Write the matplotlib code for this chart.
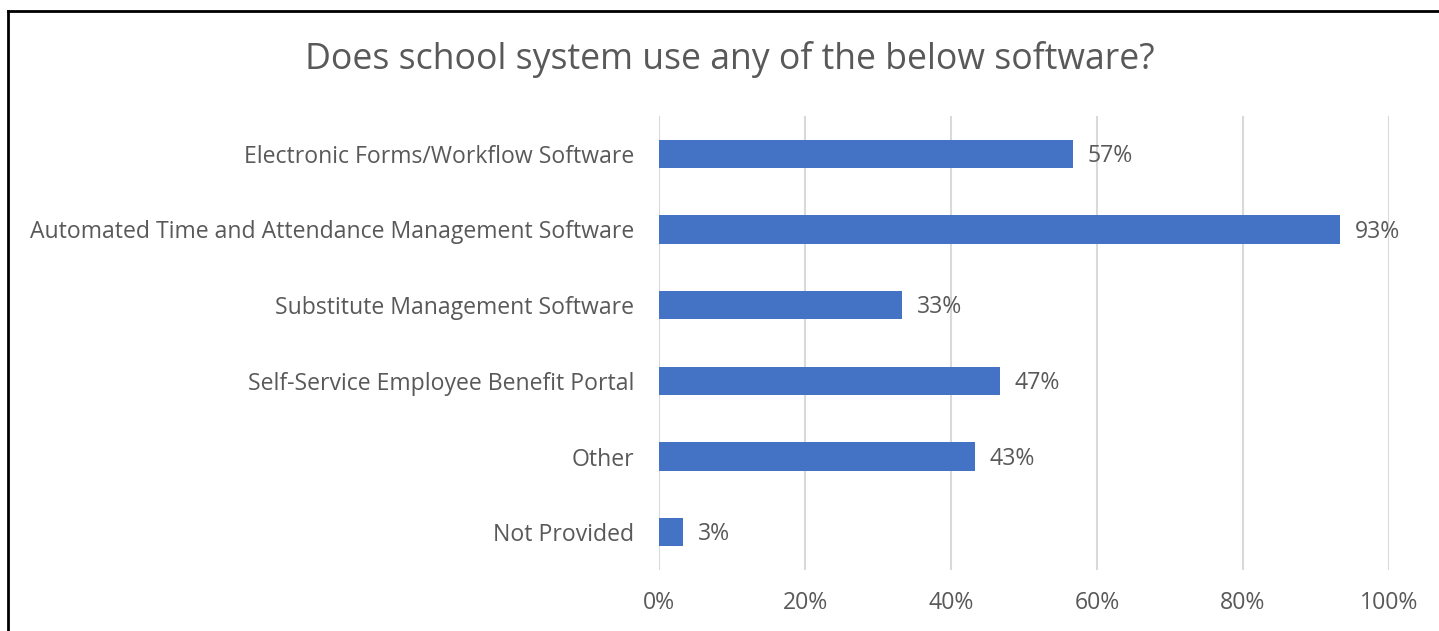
import matplotlib
matplotlib.use("Agg")
import matplotlib.pyplot as plt
from matplotlib.lines import Line2D
from matplotlib.ticker import FixedLocator, FuncFormatter

categories = [
    "Electronic Forms/Workflow Software",
    "Automated Time and Attendance Management Software",
    "Substitute Management Software",
    "Self-Service Employee Benefit Portal",
    "Other",
    "Not Provided",
]
shares = [56.7, 93.3, 33.3, 46.7, 43.3, 3.3]
x_ticks = [0, 20, 40, 60, 80, 100]
title = "Does school system use any of the below software?"

TEXT = "#595959"
BAR = "#4472C4"
GRID = "#D9D9D9"
LABEL_SIZE = 16.6

plt.rcParams["font.family"] = ["Open Sans", "DejaVu Sans"]

W, H = 1439, 631
fig = plt.figure(figsize=(W / 100, H / 100), dpi=100)
ax = fig.add_axes([659 / W, 61 / H, (1389 - 659) / W, (570 - 116) / H])

ypos = list(range(len(categories)))
ax.barh(ypos, shares, height=0.377, color=BAR, zorder=3)
for y, v in zip(ypos, shares):
    ax.annotate(f"{v:.0f}%", xy=(v, y), xytext=(10.5, -1.5), textcoords="offset points",
                va="center", ha="left", fontsize=LABEL_SIZE, color=TEXT)

ax.set_xlim(0, 100)
ax.set_ylim(len(categories) - 0.5, -0.5)
ax.xaxis.set_major_locator(FixedLocator(x_ticks))
ax.xaxis.set_major_formatter(FuncFormatter(lambda v, p: f"{v:.0f}%"))
ax.set_yticks(ypos)
ax.set_yticklabels(categories)
ax.tick_params(axis="both", length=0, labelsize=LABEL_SIZE, labelcolor=TEXT)
ax.tick_params(axis="x", pad=15)
ax.tick_params(axis="y", pad=18)
ax.grid(axis="x", color=GRID, linewidth=1.5, zorder=0)
for s in ax.spines.values():
    s.set_visible(False)

fig.text(730 / W, 1 - 59 / H, title, ha="center", va="center", fontsize=25.7, color=TEXT)

# outer frame (left and top edges)
fig.add_artist(Line2D([8 / W, 8 / W], [0, 1 - 11 / H], color="black", linewidth=2, transform=fig.transFigure))
fig.add_artist(Line2D([8 / W, 1], [1 - 11 / H, 1 - 11 / H], color="black", linewidth=2, transform=fig.transFigure))

fig.savefig("out.png", dpi=100, facecolor="white")
